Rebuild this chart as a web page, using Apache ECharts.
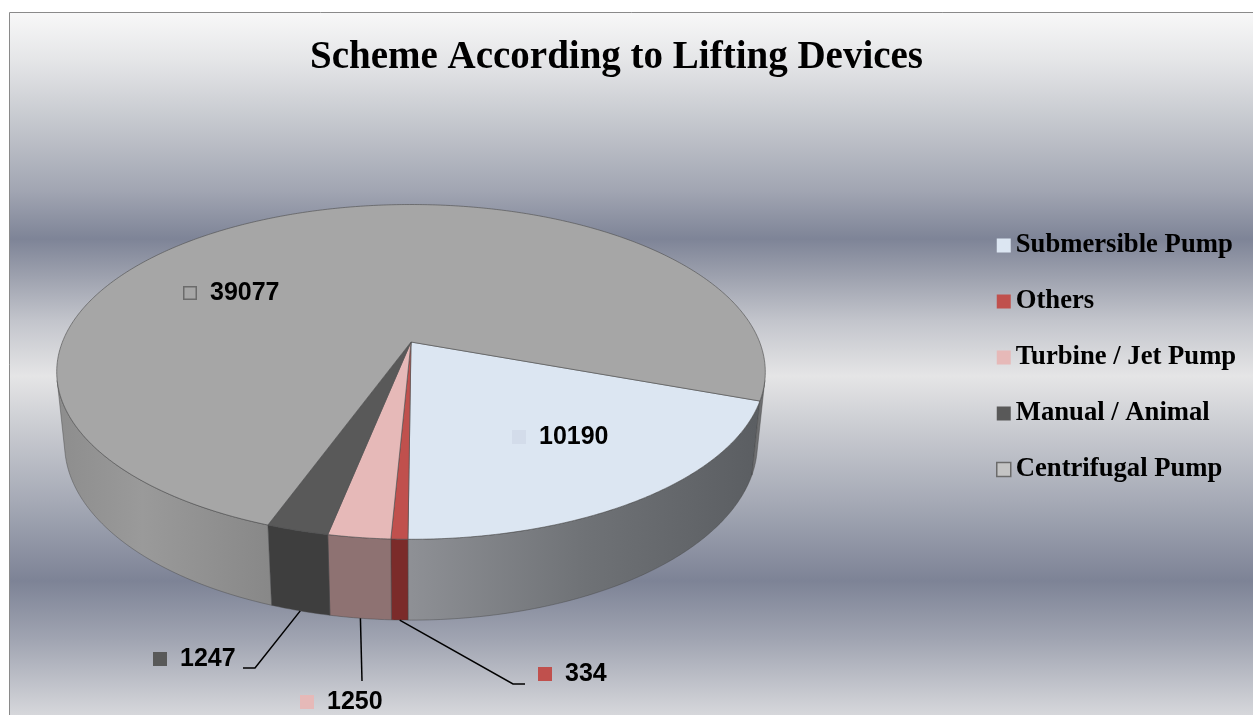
<!DOCTYPE html>
<html>
<head>
<meta charset="utf-8">
<title>Scheme According to Lifting Devices</title>
<script src="https://cdn.jsdelivr.net/npm/echarts@6/dist/echarts.min.js"></script>
<style>
  html, body { margin: 0; padding: 0; overflow: hidden; background: #fff; }
  #chart { width: 1253px; height: 715px; }
</style>
</head>
<body>
<div id="chart"></div>
<script>
const categories = ['Submersible Pump', 'Others', 'Turbine / Jet Pump', 'Manual / Animal', 'Centrifugal Pump']
const counts = [10190, 334, 1250, 1247, 39077]

// look of the slices
const topColors = ['#dce6f2', '#c0504d', '#e6b9b8', '#595959', '#a6a6a6']
const wallFills = [
  { type: 'linear', x: 405, y: 0, x2: 765, y2: 0, global: true,
    colorStops: [{ offset: 0, color: '#8f9196' }, { offset: 0.5, color: '#6f7276' }, { offset: 1, color: '#5a5d61' }] },
  '#7b2b2a',
  '#8e7272',
  '#3e3e3e',
  { type: 'linear', x: 57, y: 0, x2: 765, y2: 0, global: true,
    colorStops: [{ offset: 0, color: '#8d8d8d' }, { offset: 0.12, color: '#9a9a9a' }, { offset: 0.3, color: '#888888' }, { offset: 0.97, color: '#6e6f71' }, { offset: 1, color: '#6e6f71' }] },
]
// where each value label sits (marker left, middle line) and the leader bends
const labelBoxes = [
  { x: 512, y: 437, marker: '#d3dcea' },
  { x: 538, y: 674, leader: [[513, 684], [525, 684]] },
  { x: 300, y: 702, leader: [[362, 681]] },
  { x: 153, y: 659, leader: [[255, 668], [243, 668]] },
  { x: 183, y: 293, hollow: true },
]

// perspective of the 3d pie, radius 1 in world units
const view = { cx: 411, cy: 342, f: 1728, dist: 4.957, tilt: 27.7, depth: 0.235, start: 110 }

const total = counts.reduce((a, b) => a + b, 0)
const starts = []
let acc = 0
counts.forEach((c) => {
  starts.push(view.start + (acc / total) * 360)
  acc += c
})

const rad = Math.PI / 180
const sinT = Math.sin(view.tilt * rad)
const cosT = Math.cos(view.tilt * rad)
const project = (deg, r, y) => {
  const u = r * Math.sin(deg * rad)
  const v = -r * Math.cos(deg * rad)
  const d = view.dist - (y * sinT + v * cosT)
  return [view.cx + (view.f * u) / d, view.cy - (view.f * (y * cosT - v * sinT)) / d]
}
const arc = (a0, a1, y) => {
  const pts = []
  const n = Math.max(2, Math.ceil(Math.abs(a1 - a0) / 0.5))
  for (let k = 0; k <= n; k++) pts.push(project(a0 + ((a1 - a0) * k) / n, 1, y))
  return pts
}
// the outer wall faces the camera only on the front part
const edge = Math.acos(-1 / (view.dist * cosT)) / rad
const visible = [[edge, 360 - edge], [edge + 360, 720 - edge]]

const labelFont = 'bold 25px "Liberation Sans", Arial, sans-serif'

const makeRender = (i) => (params, api) => {
  const val = api.value(0)
  const a0 = starts[i]
  const a1 = a0 + (val / total) * 360
  const children = []
  visible.forEach(([lo, hi]) => {
    const b0 = Math.max(a0, lo)
    const b1 = Math.min(a1, hi)
    if (b1 > b0) {
      children.push({
        type: 'polygon',
        shape: { points: arc(b0, b1, 0).concat(arc(b1, b0, -view.depth)) },
        style: { fill: wallFills[i], stroke: 'rgba(70,70,70,0.55)', lineWidth: 0.8 },
      })
    }
  })
  children.push({
    type: 'polygon',
    shape: { points: [project(0, 0, 0)].concat(arc(a0, a1, 0)) },
    style: { fill: topColors[i], stroke: 'rgba(80,80,80,0.7)', lineWidth: 0.9 },
  })
  const lb = labelBoxes[i]
  if (lb.leader) {
    children.push({
      type: 'polyline',
      shape: { points: [project((a0 + a1) / 2, 1, -view.depth)].concat(lb.leader) },
      style: { stroke: '#000', lineWidth: 1.5, fill: 'none' },
    })
  }
  children.push({
    type: 'rect',
    shape: lb.hollow ? { x: lb.x + 0.75, y: lb.y - 6.25, width: 12.5, height: 12.5 } : { x: lb.x, y: lb.y - 7, width: 14, height: 14 },
    style: lb.hollow ? { fill: topColors[i], stroke: '#6b6b6b', lineWidth: 1.5 } : { fill: lb.marker || topColors[i], stroke: 'none' },
  })
  children.push({
    type: 'text',
    x: lb.x + 27,
    y: lb.y,
    style: {
      text: String(val), font: labelFont, fill: '#000',
      align: 'left', verticalAlign: 'middle', textAlign: 'left', textVerticalAlign: 'middle',
    },
  })
  return { type: 'group', children }
}

const chart = echarts.init(document.getElementById('chart'))
const option = {
  backgroundColor: '#fff',
  animation: false,
  title: {
    text: 'Scheme According to Lifting Devices',
    left: 310,
    top: 38,
    padding: 0,
    textStyle: { fontFamily: '"Liberation Serif", "Times New Roman", serif', fontWeight: 'bold', fontSize: 39, color: '#000' },
  },
  legend: {
    orient: 'vertical',
    left: 996,
    top: 232,
    padding: 0,
    itemWidth: 14,
    itemHeight: 14,
    itemGap: 29,
    icon: 'rect',
    selectedMode: false,
    textStyle: { fontFamily: '"Liberation Serif", "Times New Roman", serif', fontWeight: 'bold', fontSize: 26.67, lineHeight: 27, color: '#000' },
    data: categories.map((name, i) => ({
      name,
      itemStyle: i === 4 ? { color: '#c4c4c4', borderColor: '#6b6b6b', borderWidth: 1.5 } : { color: topColors[i] },
    })),
  },
  graphic: [
    {
      type: 'rect',
      z: -10,
      silent: true,
      shape: { x: 9.5, y: 12.5, width: 1300, height: 800 },
      style: {
        stroke: '#8a8a8a',
        lineWidth: 1,
        fill: {
          type: 'linear', x: 0, y: 12, x2: 0, y2: 715, global: true,
          colorStops: [
            { offset: 0, color: '#f8f8f8' },
            { offset: 0.071, color: '#e4e5e7' },
            { offset: 0.17, color: '#c0c3ca' },
            { offset: 0.255, color: '#a1a5b2' },
            { offset: 0.323, color: '#7e8497' },
            { offset: 0.376, color: '#9da1ae' },
            { offset: 0.44, color: '#c3c5cc' },
            { offset: 0.518, color: '#e5e5e6' },
            { offset: 0.596, color: '#c8cad0' },
            { offset: 0.695, color: '#a6aab6' },
            { offset: 0.809, color: '#7d8396' },
            { offset: 0.894, color: '#a1a5b2' },
            { offset: 1, color: '#d6d7db' },
          ],
        },
      },
    },
  ],
  series: categories.map((name, i) => ({
    type: 'custom',
    name,
    coordinateSystem: 'none',
    itemStyle: { color: topColors[i] },
    data: [counts[i]],
    renderItem: makeRender(i),
  })),
}
chart.setOption(option)
</script>
</body>
</html>
